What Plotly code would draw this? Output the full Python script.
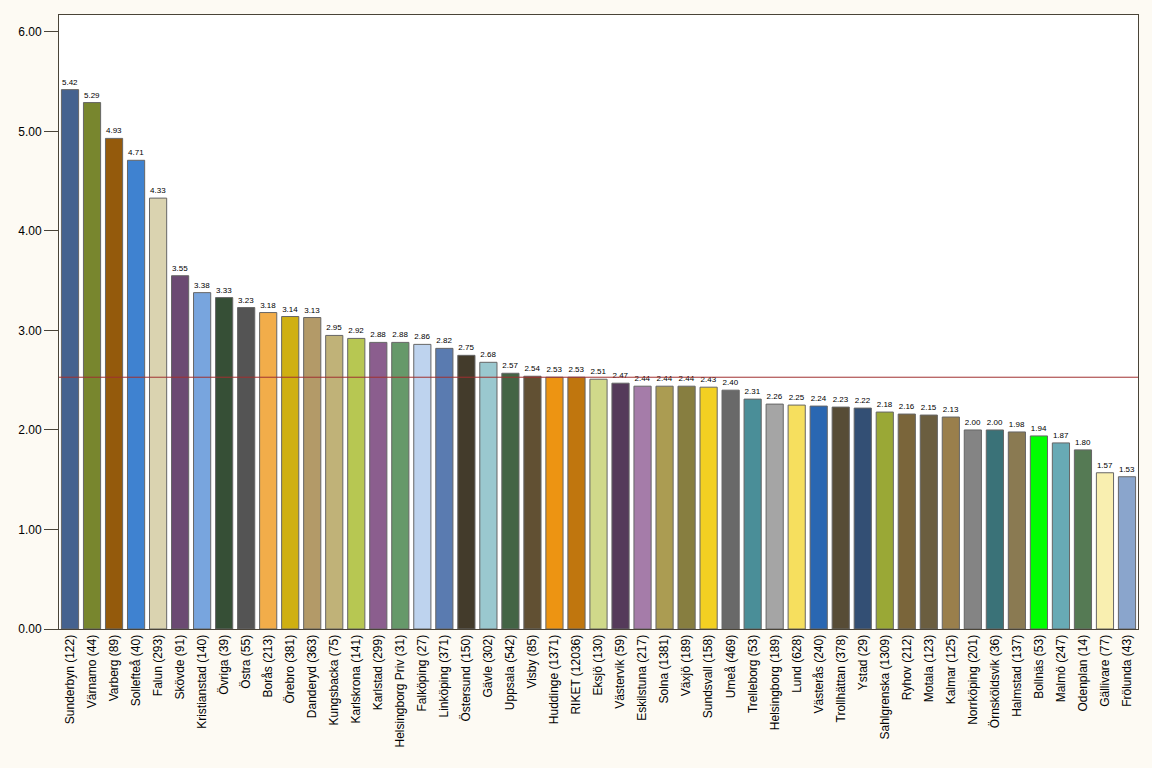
import plotly.graph_objects as go

categories = ["Sunderbyn (122)", "Värnamo (44)", "Varberg (89)", "Sollefteå (40)", "Falun (293)",
              "Skövde (91)", "Kristianstad (140)", "Övriga (39)", "Östra (55)", "Borås (213)",
              "Örebro (381)", "Danderyd (363)", "Kungsbacka (75)", "Karlskrona (141)", "Karlstad (299)",
              "Helsingborg Priv (31)", "Falköping (27)", "Linköping (371)", "Östersund (150)", "Gävle (302)",
              "Uppsala (542)", "Visby (85)", "Huddinge (1371)", "RIKET (12036)", "Eksjö (130)",
              "Västervik (59)", "Eskilstuna (217)", "Solna (1381)", "Växjö (189)", "Sundsvall (158)",
              "Umeå (469)", "Trelleborg (53)", "Helsingborg (189)", "Lund (628)", "Västerås (240)",
              "Trollhättan (378)", "Ystad (29)", "Sahlgrenska (1309)", "Ryhov (212)", "Motala (123)",
              "Kalmar (125)", "Norrköping (201)", "Örnsköldsvik (36)", "Halmstad (137)", "Bollnäs (53)",
              "Malmö (247)", "Odenplan (14)", "Gällivare (77)", "Frölunda (43)"]

values = [5.42, 5.29, 4.93, 4.71, 4.33, 3.55, 3.38, 3.33, 3.23, 3.18,
          3.14, 3.13, 2.95, 2.92, 2.88, 2.88, 2.86, 2.82, 2.75, 2.68,
          2.57, 2.54, 2.53, 2.53, 2.51, 2.47, 2.44, 2.44, 2.44, 2.43,
          2.40, 2.31, 2.26, 2.25, 2.24, 2.23, 2.22, 2.18, 2.16, 2.15,
          2.13, 2.00, 2.00, 1.98, 1.94, 1.87, 1.80, 1.57, 1.53]

bar_colors = ["#45628f", "#78862e", "#945a0c", "#3f82d0", "#dad3b0",
              "#6b4a72", "#78a5de", "#364f36", "#545454", "#f2ad4a",
              "#cfb012", "#b39a68", "#c0b278", "#b7c752", "#8b5e8e",
              "#66996a", "#bed3ee", "#5a7bb0", "#433b2b", "#9ac8cf",
              "#436445", "#615033", "#ed9412", "#c0760e", "#d0d98a",
              "#553a5a", "#a57ca9", "#ab9c52", "#877e40", "#f3d022",
              "#696969", "#4a8e98", "#a5a5a5", "#f6df5e", "#2a67b2",
              "#574c36", "#334f74", "#9aa836", "#7a653a", "#6b5e40",
              "#9a7f4c", "#848484", "#3a7278", "#8a7a52", "#00ff00",
              "#68aab5", "#557a54", "#f9efb0", "#8aa5cc"]

reference_value = 2.53  # RIKET
y_ticks = [0, 1, 2, 3, 4, 5, 6]

fig = go.Figure()
fig.add_trace(go.Bar(
    x=categories, y=values,
    marker=dict(color=bar_colors, line=dict(color="#666666", width=1)),
    text=[f"{v:.2f}" for v in values],
    textposition="outside",
    textfont=dict(family="Liberation Sans, Arial", size=8, color="#000000"),
    cliponaxis=False,
    hoverinfo="x+y",
))

fig.add_shape(type="line", xref="paper", x0=0, x1=1, yref="y",
              y0=reference_value, y1=reference_value,
              line=dict(color="#a03030", width=1))

fig.update_layout(
    width=1152, height=768,
    paper_bgcolor="#fdfaf3", plot_bgcolor="#ffffff",
    margin=dict(l=59, r=14, t=15, b=139),
    bargap=0.22,
    showlegend=False,
    font=dict(family="Liberation Sans, Arial", size=12, color="#000000"),
)
fig.update_xaxes(
    tickangle=-90, showgrid=False, showline=True, linecolor="#4a4438", linewidth=1,
    mirror=True, ticks="", tickfont=dict(size=12),
)
fig.update_yaxes(
    range=[0, 6.17], tickvals=y_ticks, tickformat=".2f",
    showgrid=False, zeroline=False, showline=True, linecolor="#4a4438", linewidth=1,
    mirror=True, ticks="outside", ticklen=14, tickcolor="#4a4438",
    tickfont=dict(size=12),
)

fig.write_html(
    "out.html",
    config={"displayModeBar": False},
    post_script="document.body.style.margin='0';document.body.style.overflow='hidden';"
                "document.body.style.background='#fdfaf3';",
)
